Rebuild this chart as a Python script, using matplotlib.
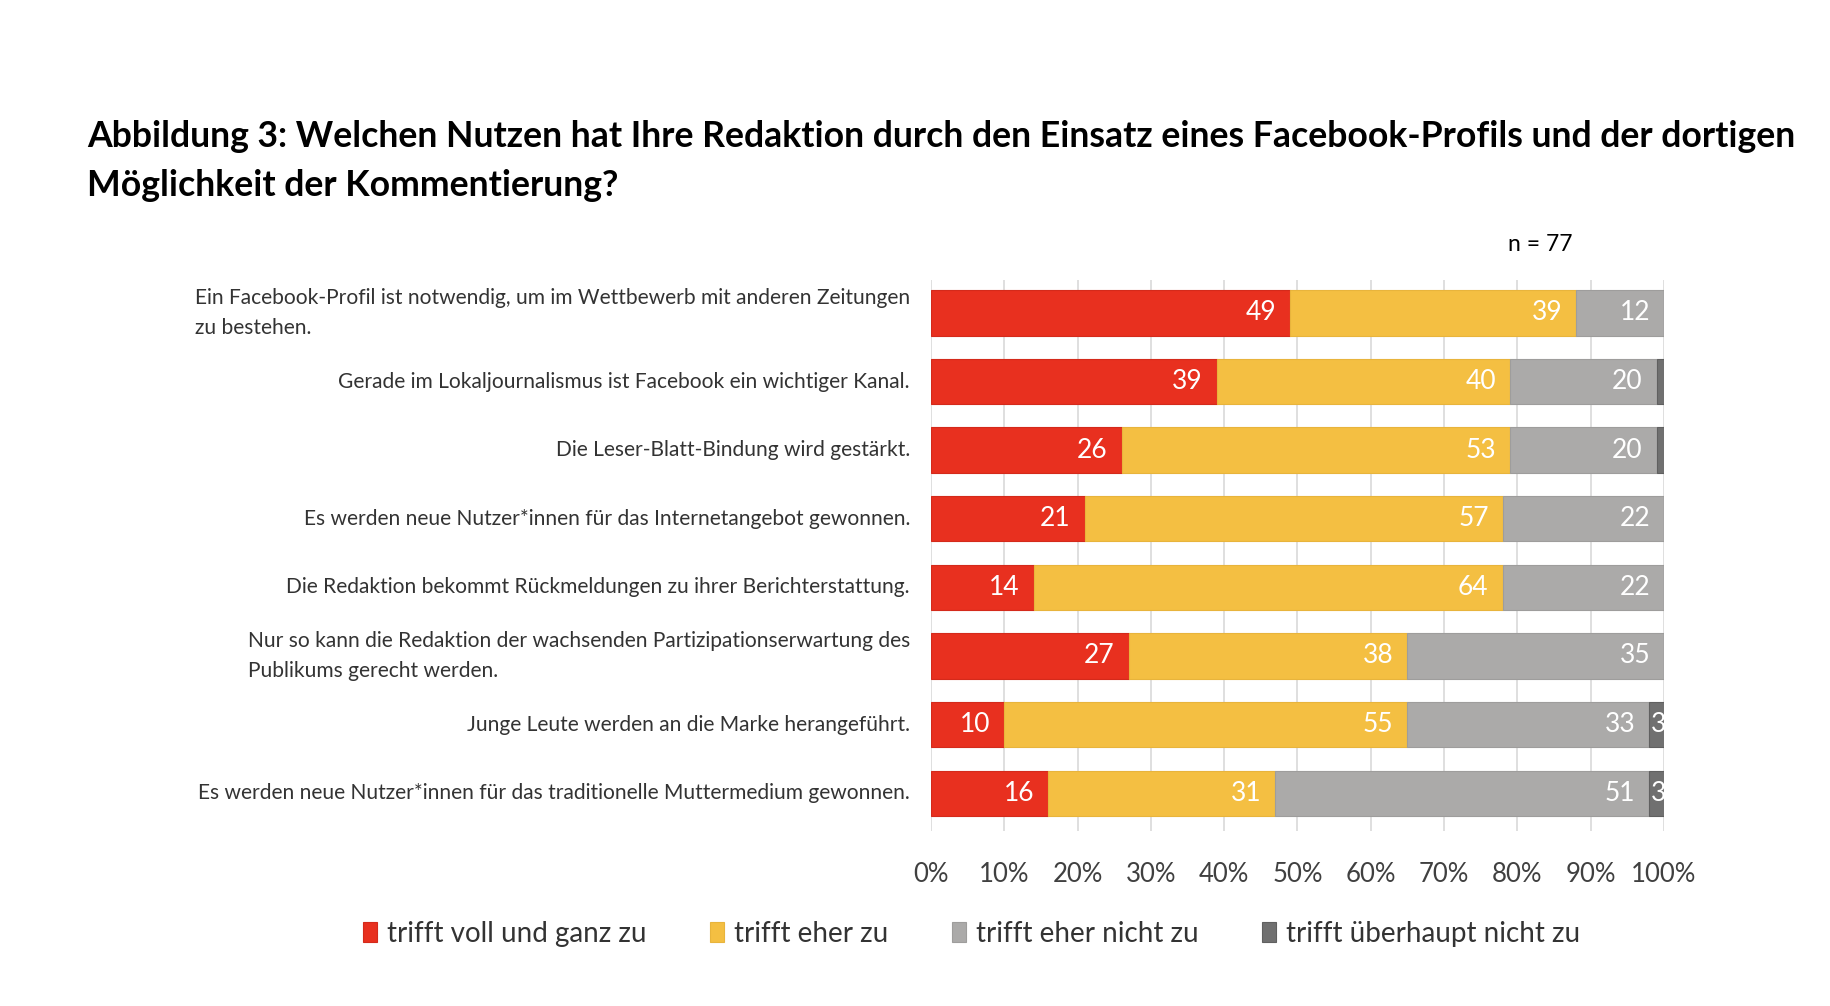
import matplotlib
matplotlib.use("Agg")
import matplotlib.pyplot as plt
from matplotlib.patches import Patch
import numpy as np

plt.rcParams['font.family'] = ['Lato', 'DejaVu Sans']

categories = [
    "Ein Facebook-Profil ist notwendig, um im Wettbewerb mit anderen Zeitungen\nzu bestehen.",
    "Gerade im Lokaljournalismus ist Facebook ein wichtiger Kanal.",
    "Die Leser-Blatt-Bindung wird gestärkt.",
    "Es werden neue Nutzer*innen für das Internetangebot gewonnen.",
    "Die Redaktion bekommt Rückmeldungen zu ihrer Berichterstattung.",
    "Nur so kann die Redaktion der wachsenden Partizipationserwartung des\nPublikums gerecht werden.",
    "Junge Leute werden an die Marke herangeführt.",
    "Es werden neue Nutzer*innen für das traditionelle Muttermedium gewonnen.",
]
voll = [49, 39, 26, 21, 14, 27, 10, 16]
eher = [39, 40, 53, 57, 64, 38, 55, 31]
eher_nicht = [12, 20, 20, 22, 22, 35, 33, 51]
ueberhaupt_nicht = [0, 1, 1, 0, 0, 0, 3, 3]
series_names = ["trifft voll und ganz zu", "trifft eher zu",
                "trifft eher nicht zu", "trifft überhaupt nicht zu"]
colors = ["#E8301F", "#F4BF42", "#ABAAA9", "#707070"]
edge_colors = ["#D42A1B", "#E8B43C", "#9E9D9C", "#606060"]
xticks = [0, 10, 20, 30, 40, 50, 60, 70, 80, 90, 100]
xticklabels = ["0%", "10%", "20%", "30%", "40%", "50%", "60%", "70%", "80%", "90%", "100%"]
title = ("Abbildung 3: Welchen Nutzen hat Ihre Redaktion durch den Einsatz eines Facebook-Profils und der dortigen\n"
         "Möglichkeit der Kommentierung?")
n_text = "n = 77"

fig = plt.figure(figsize=(18.3, 10.06), dpi=100)
ax = fig.add_axes([0.5087, 0.174, 0.4006, 0.5477])

y = np.arange(len(categories))
series = [voll, eher, eher_nicht, ueberhaupt_nicht]
left = np.zeros(len(categories))
for vals, col, ec in zip(series, colors, edge_colors):
    vals = np.array(vals, dtype=float)
    ax.barh(y, vals, left=left, height=0.66, color=col, edgecolor=ec,
            linewidth=0.8, zorder=3)
    for yi, (l, v) in enumerate(zip(left, vals)):
        if v >= 2:
            if v >= 5:
                ax.annotate(f"{int(v)}", xy=(l + v, yi), xytext=(-14, 0),
                            textcoords="offset pixels", ha="right", va="center",
                            color="white", fontsize=19, zorder=4)
            else:
                t = ax.annotate(f"{int(v)}", xy=(l, yi), xytext=(2, 0),
                                textcoords="offset pixels", ha="left", va="center",
                                color="white", fontsize=19, zorder=4,
                                annotation_clip=False)
                t.set_clip_on(True)
                t.set_clip_box(ax.bbox)
    left += vals

ax.set_xlim(0, 100)
ax.set_ylim(7.55, -0.48)
ax.set_xticks(xticks)
ax.set_xticklabels(xticklabels, fontsize=18.5, color="#404040")
ax.tick_params(axis="x", length=0, pad=22)
ax.set_yticks(y)
ax.set_yticklabels([])
ax.tick_params(axis="y", length=0)
ax.grid(axis="x", color="#D9D9D9", linewidth=1.2, zorder=0)
for s in ax.spines.values():
    s.set_visible(False)

for yi, cat in enumerate(categories):
    ax.annotate(cat, xy=(0, yi), xytext=(-21, 0), textcoords="offset pixels",
                ha="right", va="center", multialignment="left",
                fontsize=15.1, color="#333333", linespacing=1.65,
                annotation_clip=False)

fig.text(0.0475, 0.840, title, fontsize=25.7, fontweight="bold", color="black",
         ha="left", va="center", linespacing=1.6)
fig.text(0.8415, 0.757, n_text, fontsize=16.5, color="black", ha="center", va="center")

handles = [Patch(facecolor=c, edgecolor=ec, linewidth=0.8) for c, ec in zip(colors, edge_colors)]
fig.legend(handles, series_names, loc="center", bbox_to_anchor=(0.531, 0.0716),
           ncol=4, frameon=False, fontsize=20, handlelength=0.5, handleheight=0.75,
           handletextpad=0.35, columnspacing=2.3, labelcolor="#333333")

fig.savefig("out.png", dpi=100, facecolor="white")
